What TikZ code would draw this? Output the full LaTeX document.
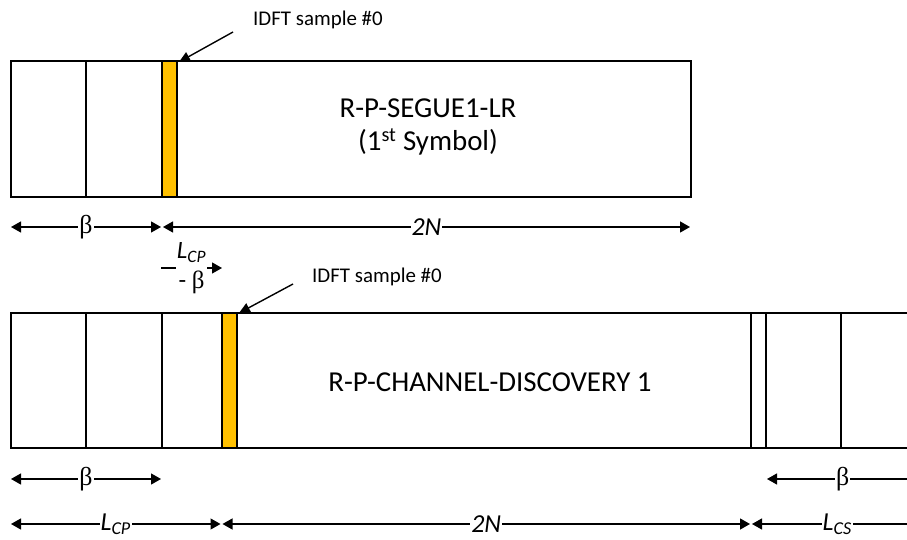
\documentclass[tikz,border=0pt]{standalone}
\usepackage{fontspec}
\setmainfont{Carlito}
\newfontfamily\betafont{Liberation Serif}
\usetikzlibrary{arrows.meta, calc}
\definecolor{idftGold}{RGB}{255,192,0}
\newcommand{\bt}{{\betafont β}}

\begin{document}
\begin{tikzpicture}[
  x=1bp, y=-1bp,
  frame/.style={draw=black, line width=1.5bp},
  sample/.style={draw=black, line width=1.5bp, fill=idftGold},
  mainlabel/.style={inner sep=1bp, align=center, font=\fontsize{29}{33}\selectfont},
  smalllabel/.style={inner sep=1bp, anchor=west, font=\fontsize{21}{25}\selectfont},
  dimlabel/.style={inner sep=1bp, fill=white, font=\fontsize{26}{31}\selectfont},
  pointer/.style={line width=1.4bp, -{Triangle[length=11bp,width=10bp]}},
  dimboth/.style={line width=1.3bp, {Triangle[length=10bp,width=11bp]}-{Triangle[length=10bp,width=11bp]}},
  dimleft/.style={line width=1.3bp, {Triangle[length=10bp,width=11bp]}-},
  dimright/.style={line width=1.3bp, -{Triangle[length=10bp,width=11bp]}}
]
\useasboundingbox (0,0) rectangle (907,540);

% Symbols
\draw[frame] (11,61) rectangle (691,197);
\draw[frame] (86,61) -- (86,197);
\draw[sample] (162,61) rectangle (177,197);
\node[mainlabel] (segue) at (428,127) {R-P-SEGUE1-LR\\(1\textsuperscript{st} Symbol)};

\draw[frame] (907,313) -- (11,313) -- (11,448) -- (907,448);
\foreach \x in {86,162,751,766,841}
  \draw[frame] (\x,313) -- (\x,448);
\draw[sample] (222,313) rectangle (237,448);
\node[mainlabel] (discovery) at (490,382) {R-P-CHANNEL-DISCOVERY 1};

% IDFT sample pointers
\node[smalllabel] (idftA) at (252,20) {IDFT sample \#0};
\coordinate (idftAtail) at (233,32);
\coordinate (idftAtip) at (179,62);
\draw[pointer] (idftAtail) -- (idftAtip);

\node[smalllabel] (idftB) at (311,277) {IDFT sample \#0};
\coordinate (idftBtail) at (293,284);
\coordinate (idftBtip) at (239,313);
\draw[pointer] (idftBtail) -- (idftBtip);

% Dimensions, top
\coordinate (ta0) at (11,227);
\coordinate (ta1) at (161,227);
\coordinate (ta2) at (163,227);
\coordinate (ta3) at (690,227);
\draw[dimboth] (ta0) -- node[dimlabel] (betaA) {\bt} (ta1);
\draw[dimboth] (ta2) -- node[dimlabel] (nA) {\textit{2N}} (ta3);

\coordinate (cp0) at (161,268);
\coordinate (cp1) at (222,268);
\draw[dimright] (cp0) -- node[dimlabel, align=center, font=\fontsize{25}{30}\selectfont] (cpbeta) {\textit{L}\textsubscript{\textit{CP}}\\- \bt} (cp1);

% Dimensions, bottom
\coordinate (ba0) at (11,479);
\coordinate (ba1) at (161,479);
\coordinate (ba2) at (767,479);
\coordinate (ba3) at (907,479);
\draw[dimboth] (ba0) -- node[dimlabel] (betaB) {\bt} (ba1);
\draw[dimleft] (ba2) -- node[dimlabel, pos=0.54] (betaC) {\bt} (ba3);

\coordinate (bb0) at (11,524);
\coordinate (bb1) at (220.5,524);
\coordinate (bb2) at (222.5,524);
\coordinate (bb3) at (750,524);
\coordinate (bb4) at (752,524);
\coordinate (bb5) at (907,524);
\draw[dimboth] (bb0) -- node[dimlabel] (lcp) {\textit{L}\textsubscript{\textit{CP}}} (bb1);
\draw[dimboth] (bb2) -- node[dimlabel] (nB) {\textit{2N}} (bb3);
\draw[dimleft] (bb4) -- node[dimlabel, pos=0.55] (lcs) {\textit{L}\textsubscript{\textit{CS}}} (bb5);

\end{tikzpicture}
\end{document}
